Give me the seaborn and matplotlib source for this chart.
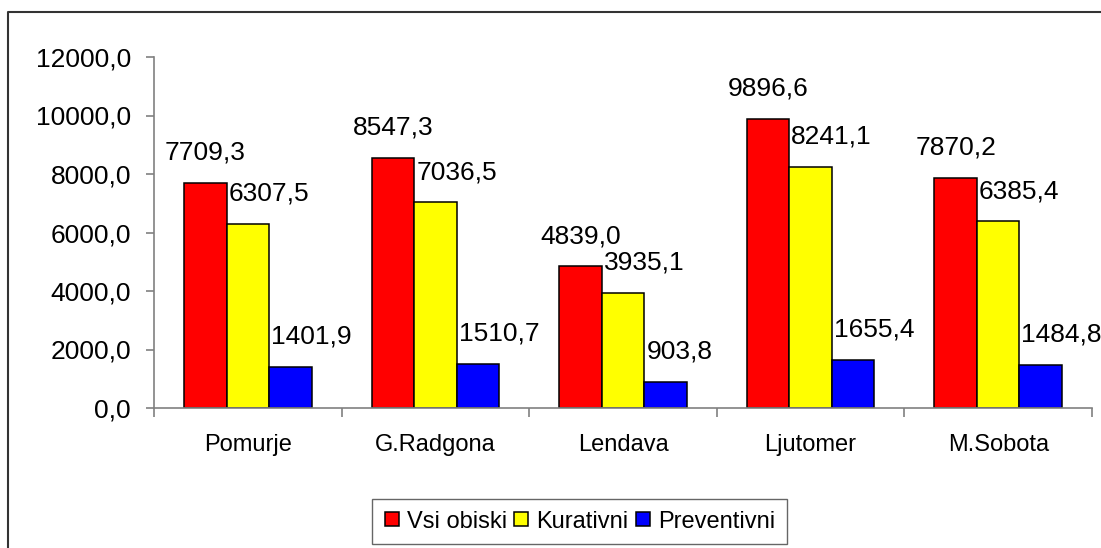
import matplotlib
matplotlib.use("Agg")
import matplotlib.pyplot as plt
from matplotlib.lines import Line2D
from matplotlib.ticker import FuncFormatter, FixedLocator
import pandas as pd
import seaborn as sns

# ── Data ────────────────────────────────────────────────────────────────
regions = ["Pomurje", "G.Radgona", "Lendava", "Ljutomer", "M.Sobota"]
series = ["Vsi obiski", "Kurativni", "Preventivni"]
vsi_obiski = [7709.3, 8547.3, 4839.0, 9896.6, 7870.2]
kurativni = [6307.5, 7036.5, 3935.1, 8241.1, 6385.4]
preventivni = [1401.9, 1510.7, 903.8, 1655.4, 1484.8]
y_ticks = [0, 2000, 4000, 6000, 8000, 10000, 12000]

colors = ["#FF0000", "#FFFF00", "#0000FF"]
W, H = 1101, 548
PX = 72 / 100  # points per pixel at dpi 100


def comma(v, _pos=None):
    return f"{v:.1f}".replace(".", ",")


df = pd.DataFrame({
    "regija": regions * len(series),
    "serija": [s for s in series for _ in regions],
    "vrednost": vsi_obiski + kurativni + preventivni,
})

sns.set_style("white")
plt.rcParams["font.family"] = ["Liberation Sans", "DejaVu Sans"]
plt.rcParams["text.color"] = "black"
plt.rcParams["xtick.labelcolor"] = "black"
plt.rcParams["ytick.labelcolor"] = "black"

fig = plt.figure(figsize=(W / 100, H / 100), dpi=100)
ax = fig.add_axes([154 / W, 1 - 408 / H, (1092 - 154) / W, (408 - 57) / H])

sns.barplot(
    data=df, x="regija", y="vrednost", hue="serija", hue_order=series,
    palette=colors, saturation=1, width=0.68, gap=0, errorbar=None,
    edgecolor="black", linewidth=1.1, legend=False, ax=ax,
)

# ── Value labels ────────────────────────────────────────────────────────
for container, ha in zip(ax.containers, ["center", "left", "left"]):
    for bar in container:
        h = bar.get_height()
        if ha == "center":
            x, dx = bar.get_x() + bar.get_width() / 2, 0
        else:
            x, dx = bar.get_x(), 2 * PX
        ax.annotate(comma(h), (x, h), xytext=(dx, 30 * PX),
                    textcoords="offset points", ha=ha, va="center",
                    fontsize=19, color="black", annotation_clip=False)

# ── Axes styling ────────────────────────────────────────────────────────
ax.set_xlim(-0.5, len(regions) - 0.5)
ax.set_ylim(0, 12000)
ax.set_yticks(y_ticks)
ax.yaxis.set_major_formatter(FuncFormatter(comma))
ax.xaxis.set_minor_locator(FixedLocator([i - 0.5 for i in range(len(regions) + 1)]))
ax.set_xlabel("")
ax.set_ylabel("")

for side in ("top", "right"):
    ax.spines[side].set_visible(False)
for side in ("left", "bottom"):
    ax.spines[side].set_color("#808080")
    ax.spines[side].set_linewidth(1.2)

ax.tick_params(axis="y", direction="out", length=8 * PX, width=1.2,
               color="#808080", labelsize=19, pad=15 * PX, left=True,
               labelcolor="black")
ax.tick_params(axis="x", which="major", length=0, labelsize=17, pad=26 * PX,
               labelcolor="black")
ax.tick_params(axis="x", which="minor", direction="out", length=9 * PX,
               width=1.2, color="#808080", bottom=True)

# ── Legend ──────────────────────────────────────────────────────────────
handles = [
    Line2D([], [], marker="s", linestyle="none", markersize=14 * PX,
           markerfacecolor=c, markeredgecolor="black", markeredgewidth=1.1)
    for c in colors
]
leg = fig.legend(
    handles, series, loc="center", bbox_to_anchor=(579.5 / W, 1 - 521.5 / H),
    ncol=3, fontsize=17, frameon=True, fancybox=False, handlelength=0.65,
    handletextpad=0.3, columnspacing=0.3, borderpad=0.5, borderaxespad=0,
    labelcolor="black",
)
leg.get_frame().set_edgecolor("#404040")
leg.get_frame().set_linewidth(1.0)

# ── Outer border (left and top edges only visible) ──────────────────────
fig.add_artist(Line2D([8 / W, 8 / W, 1.0], [0, 1 - 11.5 / H, 1 - 11.5 / H],
                      transform=fig.transFigure, color="#333333", lw=1.5))

fig.savefig("out.png", dpi=100)
